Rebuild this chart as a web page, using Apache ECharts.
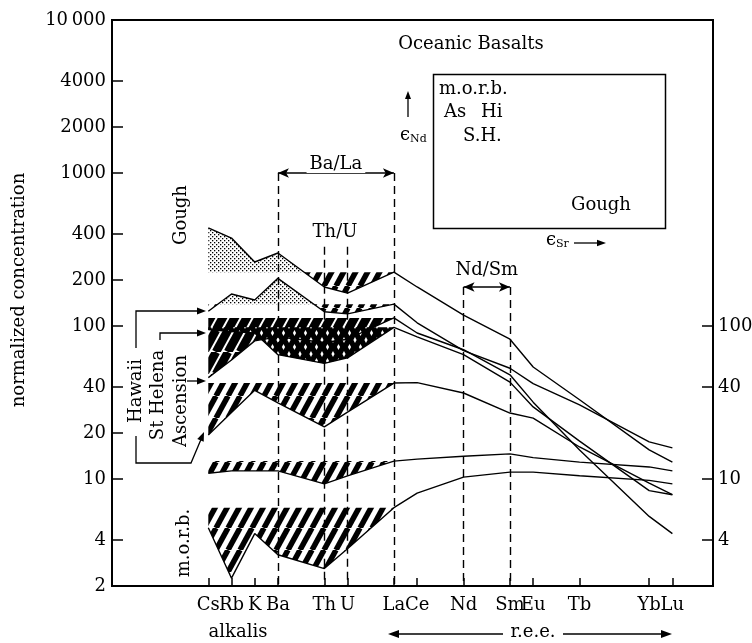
<!DOCTYPE html>
<html>
<head>
<meta charset="utf-8">
<script src="https://cdn.jsdelivr.net/npm/echarts@6/dist/echarts.min.js"></script>
<style>
  html, body { margin: 0; padding: 0; background: #fff; }
  #chart { width: 752px; height: 643px; }
</style>
</head>
<body>
<div id="chart"></div>
<script>
// element order along the x axis (position = slot index, gaps left blank)
const ELEMENTS = ['Cs', 'Rb', 'K', 'Ba', 'Th', 'U', 'La', 'Ce', 'Nd', 'Sm', 'Eu', 'Tb', 'Yb', 'Lu']
const ELEMENT_POS = [0, 1, 2, 3, 5, 6, 8, 9, 11, 13, 14, 16, 19, 20]
const LEFT_TICKS = [2, 4, 10, 20, 40, 100, 200, 400, 1000, 2000, 4000, 10000]
const RIGHT_TICKS = [4, 10, 40, 100]

// normalized concentrations, one value per element above
const goughA    = [438, 376, 262, 300, 180, 164, 225, 180, 118, 82, 54, 33, 15.5, 12.9]
const goughB    = [125, 162, 148, 205, 124, 120, 139, 105, 69, 53, 42, 30.5, 17.5, 16]
const hawaii    = [46, 60, 80, 85, 78, 82, 113, 90, 70, 48, 31.8, 15.5, 5.7, 4.4]
const stHelena  = [95, 92, 90, 65, 57, 62, 98, 85, 65, 43, 29.6, 17.7, 8.4, 7.9]
const ascension = [19.4, 27.2, 38, 31.5, 21.9, 27.4, 42.4, 42.7, 36.5, 27, 25, 16.2, 9.4, 7.9]
const bandE     = [10.9, 11.3, 11.3, 11.3, 9.3, 10.5, 13.1, 13.5, 14.1, 14.6, 13.8, 12.9, 12.0, 11.3]
const morb      = [4.8, 2.25, 4.4, 3.2, 2.6, 3.5, 6.5, 8.1, 10.3, 11.1, 11.1, 10.5, 9.8, 9.3]

const LA = ELEMENTS.indexOf('La')
const FONT = '"DejaVu Serif", "Liberation Serif", serif'

// labels that sit right next to the axis ends go on a second (bare) axis,
// otherwise echarts drops them as overlapping the end labels
const EXTRA_LABELS = [ELEMENT_POS[1], ELEMENT_POS[12]]
const MAIN_LABELS = ELEMENT_POS.filter(p => !EXTRA_LABELS.includes(p))

// --- fill patterns ---
function hatch(period, h, lw) {
  const c = document.createElement('canvas')
  c.width = period; c.height = h
  const g = c.getContext('2d')
  g.strokeStyle = '#000'; g.lineWidth = lw
  for (const off of [-period, 0, period]) {
    g.beginPath(); g.moveTo(off, h); g.lineTo(off + period, 0); g.stroke()
  }
  return { image: c, repeat: 'repeat' }
}
function stipple() {
  const c = document.createElement('canvas')
  c.width = 4; c.height = 4
  const g = c.getContext('2d')
  g.fillStyle = '#000'
  g.fillRect(0, 0, 1.3, 1.3); g.fillRect(2, 2, 1.3, 1.3)
  return { image: c, repeat: 'repeat' }
}
function spots() {
  const c = document.createElement('canvas')
  c.width = 11; c.height = 14
  const g = c.getContext('2d')
  g.fillStyle = '#000'; g.fillRect(0, 0, 11, 14)
  g.fillStyle = '#fff'
  const dia = (x, y) => { g.beginPath(); g.moveTo(x, y - 3); g.lineTo(x + 1.6, y); g.lineTo(x, y + 3); g.lineTo(x - 1.6, y); g.closePath(); g.fill() }
  dia(3, 4); dia(8.5, 11)
  return { image: c, repeat: 'repeat' }
}
const HATCH = hatch(12, 22, 5.5)
const HATCH_DARK = hatch(12, 22, 8.5)
const STIPPLE = stipple()
const SPOTS = spots()

const BANDS = [
  { values: goughA, above: STIPPLE, below: HATCH },
  { values: goughB, above: STIPPLE, below: HATCH },
  { values: hawaii, above: HATCH_DARK, below: HATCH_DARK },
  { values: stHelena, above: SPOTS, below: SPOTS },
  { values: ascension, above: HATCH, below: HATCH },
  { values: bandE, above: HATCH, below: HATCH },
  { values: morb, above: HATCH, below: HATCH },
]
const LINES = [goughA, goughB, hawaii, stHelena, ascension, bandE, morb]

// split the area between the pattern and the flat La level into the part
// above and the part below that level (pixel space)
function splitBand(vals, api) {
  const seq = []
  for (let i = 0; i <= LA; i++) {
    const p = api.coord([ELEMENT_POS[i], vals[i]])
    const t = api.coord([ELEMENT_POS[i], vals[LA]])
    seq.push({ x: p[0], py: p[1], ty: t[1] })
    if (i < LA) {
      const p2 = api.coord([ELEMENT_POS[i + 1], vals[i + 1]])
      const t2 = api.coord([ELEMENT_POS[i + 1], vals[LA]])
      const d0 = p[1] - t[1], d1 = p2[1] - t2[1]
      if (d0 * d1 < 0) {
        const f = d0 / (d0 - d1)
        const y = t[1] + f * (t2[1] - t[1])
        seq.push({ x: p[0] + f * (p2[0] - p[0]), py: y, ty: y })
      }
    }
  }
  const below = seq.map(s => [s.x, s.ty]).concat(seq.map(s => [s.x, Math.max(s.py, s.ty)]).reverse())
  const above = seq.map(s => [s.x, Math.min(s.py, s.ty)]).concat(seq.map(s => [s.x, s.ty]).reverse())
  return { below, above }
}

function head(x, y, ang, len, w) {
  len = len || 10; w = w || 4
  const c = Math.cos(ang), s = Math.sin(ang)
  return {
    type: 'polygon', silent: true,
    shape: { points: [[x, y], [x - len * c - w * s, y - len * s + w * c], [x - len * c + w * s, y - len * s - w * c]] },
    style: { fill: '#000' },
  }
}
function pline(points) {
  return { type: 'polyline', silent: true, shape: { points }, style: { stroke: '#000', lineWidth: 1.3, fill: null } }
}
function txt(text, x, y, opts) {
  opts = opts || {}
  return {
    type: 'text', x, y, rotation: opts.rot || 0, silent: true,
    style: {
      text, font: (opts.size || 18) + 'px ' + FONT, fill: '#000',
      align: opts.align || 'center', verticalAlign: 'middle',
      rich: opts.rich,
    },
  }
}

const dash = (x, top) => [{ coord: [x, top] }, { coord: [x, 2] }]
const elementName = v => ELEMENTS[ELEMENT_POS.indexOf(Math.round(v))] || ''

const yAxisBase = {
  type: 'log', logBase: 10, min: 2, max: 10000,
  axisLine: { show: true, onZero: false, lineStyle: { color: '#000', width: 2 } },
  splitLine: { show: false }, minorTick: { show: false },
}
const xLabelBase = { margin: 10, color: '#000', fontFamily: FONT, fontSize: 18, showMinLabel: true, showMaxLabel: true, hideOverlap: false, formatter: elementName }

const chart = echarts.init(document.getElementById('chart'))
chart.setOption({
  animation: false,
  grid: { left: 112, right: 39, top: 20, bottom: 57, show: true, borderColor: '#000', borderWidth: 2, outerBoundsMode: 'none' },
  xAxis: [
    {
      type: 'value', min: -4.15, max: 21.75, position: 'bottom',
      axisLine: { show: true, onZero: false, lineStyle: { color: '#000', width: 2 } },
      axisTick: { show: true, inside: true, length: 8, customValues: ELEMENT_POS, lineStyle: { color: '#000', width: 1.5 } },
      axisLabel: { ...xLabelBase, customValues: MAIN_LABELS },
      splitLine: { show: false },
    },
    {
      type: 'value', min: -4.15, max: 21.75, position: 'bottom', offset: 0,
      axisLine: { show: false, onZero: false },
      axisTick: { show: false },
      axisLabel: { ...xLabelBase, customValues: EXTRA_LABELS },
      splitLine: { show: false },
    },
  ],
  yAxis: [
    {
      ...yAxisBase, position: 'left',
      axisTick: { show: true, inside: true, length: 11, customValues: LEFT_TICKS, lineStyle: { color: '#000', width: 1.5 } },
      axisLabel: {
        customValues: LEFT_TICKS, margin: 6, color: '#000', fontFamily: FONT, fontSize: 18,
        showMinLabel: true, showMaxLabel: true,
        formatter: v => { const r = Math.round(v); return r === 10000 ? '10\u2009000' : String(r) },
      },
    },
    {
      ...yAxisBase, position: 'right',
      axisTick: { show: true, inside: true, length: 11, customValues: RIGHT_TICKS, lineStyle: { color: '#000', width: 1.5 } },
      axisLabel: {
        customValues: RIGHT_TICKS, margin: 5, color: '#000', fontFamily: FONT, fontSize: 18,
        formatter: v => String(Math.round(v)),
      },
    },
  ],
  series: [
    {
      type: 'custom', z: 1, silent: true,
      data: BANDS.map(() => [0, 10]),
      encode: { x: 0, y: 1 },
      renderItem: (params, api) => {
        const b = BANDS[params.dataIndex]
        const { below, above } = splitBand(b.values, api)
        return {
          type: 'group',
          children: [
            { type: 'polygon', shape: { points: below }, style: { fill: b.below, stroke: null } },
            { type: 'polygon', shape: { points: above }, style: { fill: b.above, stroke: null } },
          ],
        }
      },
    },
    ...LINES.map((arr, k) => ({
      type: 'line', z: 3, silent: true, symbol: 'none',
      data: ELEMENT_POS.map((x, i) => [x, arr[i]]),
      lineStyle: { color: '#000', width: 1.4 },
      markLine: k === 0 ? {
        silent: true, symbol: 'none', animation: false,
        lineStyle: { color: '#000', width: 1.4, type: [8, 5] },
        label: { show: false },
        data: [
          dash(3, 1000), dash(8, 1000), dash(5, 330), dash(6, 330), dash(11, 180), dash(13, 180),
          [
            { coord: [3, 1000], symbol: 'arrow', symbolSize: [7, 11], lineStyle: { type: 'solid', width: 1.5 },
              label: { show: true, position: 'middle', formatter: 'Ba/La', color: '#000', fontFamily: FONT, fontSize: 18, backgroundColor: '#fff', padding: [0, 3], distance: 0 } },
            { coord: [8, 1000], symbol: 'arrow', symbolSize: [7, 11] },
          ],
          [
            { coord: [11, 180], symbol: 'arrow', symbolSize: [7, 11], lineStyle: { type: 'solid', width: 1.5 },
              label: { show: true, position: 'insideMiddleTop', formatter: 'Nd/Sm', color: '#000', fontFamily: FONT, fontSize: 18, distance: 8 } },
            { coord: [13, 180], symbol: 'arrow', symbolSize: [7, 11] },
          ],
        ],
      } : undefined,
    })),
  ],
  graphic: [
    txt('normalized concentration', 19, 290, { rot: Math.PI / 2 }),
    txt('Gough', 181, 215, { rot: Math.PI / 2 }),
    txt('Hawaii', 136, 391, { rot: Math.PI / 2 }),
    txt('St Helena', 158, 395, { rot: Math.PI / 2 }),
    txt('Ascension', 181, 401, { rot: Math.PI / 2 }),
    txt('m.o.r.b.', 184, 543, { rot: Math.PI / 2 }),
    pline([[198, 311], [136, 311], [136, 348]]),
    pline([[136, 436], [136, 463], [191, 463], [202, 437]]),
    head(206, 311, 0, 9, 3.5),
    head(204, 432, -Math.atan2(26, 11), 9, 3.5),
    pline([[160, 340], [160, 333], [199, 333]]),
    head(206, 333, 0, 9, 3.5),
    pline([[187, 381], [199, 381]]),
    head(206, 381, 0, 9, 3.5),
    txt('Th/U', 335, 232),
    txt('Oceanic Basalts', 471, 44),
    { type: 'rect', silent: true, shape: { x: 433.5, y: 74.5, width: 232, height: 154 }, style: { fill: null, stroke: '#000', lineWidth: 1.5 } },
    txt('m.o.r.b.', 439, 89, { align: 'left' }),
    txt('As\u2002 Hi', 444, 112, { align: 'left' }),
    txt('S.H.', 463, 136, { align: 'left' }),
    txt('Gough', 571, 205, { align: 'left' }),
    pline([[408, 117], [408, 98]]),
    head(408, 91, -Math.PI / 2, 8, 3),
    txt('{e|ϵ}{s|Nd}', 400, 135, { align: 'left', rich: { e: { fontFamily: FONT, fontSize: 18 }, s: { fontFamily: FONT, fontSize: 11, padding: [8, 0, 0, 0] } } }),
    txt('{e|ϵ}{s|Sr}', 546, 240, { align: 'left', rich: { e: { fontFamily: FONT, fontSize: 18 }, s: { fontFamily: FONT, fontSize: 11, padding: [8, 0, 0, 0] } } }),
    pline([[574, 243], [599, 243]]),
    head(606, 243, 0, 9, 3.2),
    txt('alkalis', 238, 632),
    txt('r.e.e.', 533, 632),
    pline([[396, 634], [503, 634]]),
    pline([[563, 634], [664, 634]]),
    head(388, 634, Math.PI, 11, 4),
    head(672, 634, 0, 11, 4),
  ],
})
</script>
</body>
</html>
